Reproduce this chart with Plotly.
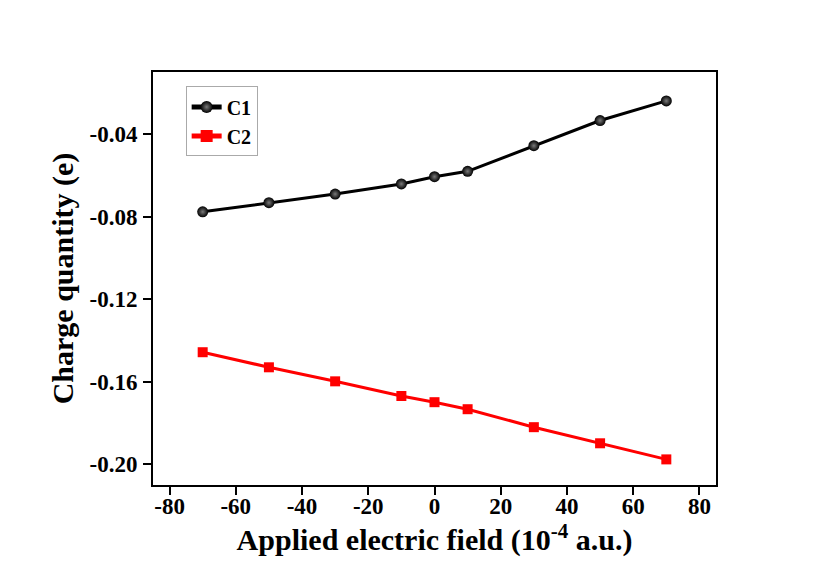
import plotly.graph_objects as go

field = [-70, -50, -30, -10, 0, 10, 30, 50, 70]
c1 = [-0.0777, -0.0733, -0.0691, -0.0642, -0.0607, -0.0581, -0.0457, -0.0335, -0.0240]
c2 = [-0.1457, -0.1530, -0.1598, -0.1669, -0.1699, -0.1733, -0.1820, -0.1898, -0.1976]
x_ticks = [-80, -60, -40, -20, 0, 20, 40, 60, 80]
y_ticks = [-0.20, -0.16, -0.12, -0.08, -0.04]

FONT = "Liberation Serif"

fig = go.Figure()
fig.add_trace(go.Scatter(
    x=field, y=c1, name="C1", mode="lines+markers",
    line=dict(color="black", width=3),
    marker=dict(symbol="circle", size=11, color="black",
                gradient=dict(type="radial", color="#7a7a7a"),
                line=dict(width=0)),
))
fig.add_trace(go.Scatter(
    x=field, y=c2, name="C2", mode="lines+markers",
    line=dict(color="#ff0000", width=3),
    marker=dict(symbol="square", size=10, color="#ff0000", line=dict(width=0)),
))

axis_common = dict(
    showline=True, linecolor="black", linewidth=2, mirror=True,
    ticks="outside", ticklen=8, tickwidth=2, tickcolor="black",
    showgrid=False, zeroline=False,
    tickfont=dict(family=FONT, size=23, color="black", weight="bold"),
)

fig.update_xaxes(
    range=[-85, 85], tickvals=x_ticks, ticktext=[str(v) for v in x_ticks],
    ticklabelstandoff=-9,
    title=dict(text="Applied electric field (10<sup>-4</sup> a.u.)",
               font=dict(family=FONT, size=30, color="black", weight="bold"),
               standoff=8),
    **axis_common,
)
fig.update_yaxes(
    range=[-0.21, -0.01], tickvals=y_ticks, ticktext=[f"{v:.2f}" for v in y_ticks],
    ticklabelstandoff=1,
    title=dict(text="Charge quantity (e)",
               font=dict(family=FONT, size=30, color="black", weight="bold"),
               standoff=7),
    **axis_common,
)

fig.update_layout(
    width=821, height=572,
    margin=dict(l=145, r=113, t=64, b=95),
    paper_bgcolor="white", plot_bgcolor="white",
    showlegend=True,
    legend=dict(
        x=0.058, y=0.965, xanchor="left", yanchor="top",
        bgcolor="white", bordercolor="#aaaaaa", borderwidth=1,
        font=dict(family=FONT, size=20, color="black", weight="bold"),
        tracegroupgap=0, itemsizing="constant",
    ),
)

fig.write_html("out.html")
